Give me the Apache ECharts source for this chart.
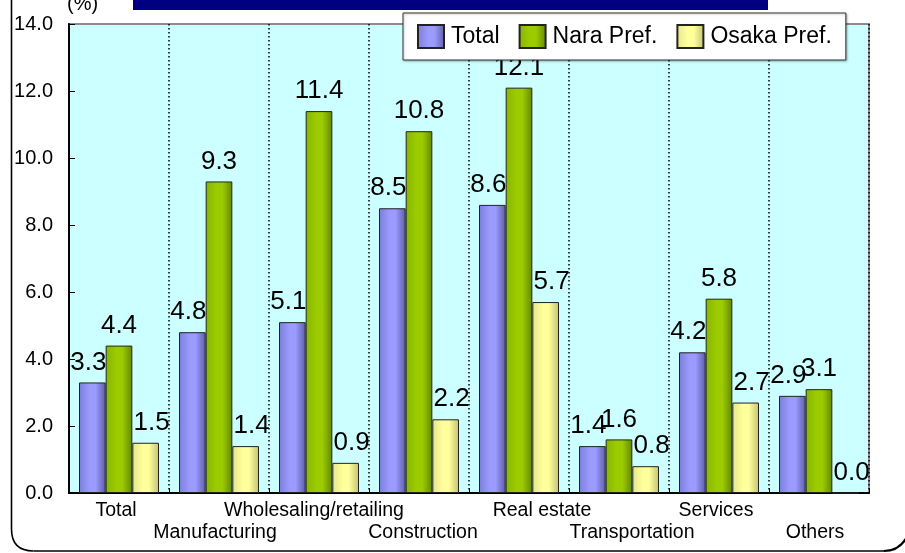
<!DOCTYPE html>
<html>
<head>
<meta charset="utf-8">
<script src="https://cdn.jsdelivr.net/npm/echarts@6/dist/echarts.min.js"></script>
<style>
  html, body { margin: 0; padding: 0; background: #ffffff; overflow: hidden; }
  #chart { width: 905px; height: 553px; }
</style>
</head>
<body>
<div id="chart"></div>
<script>
// Industry categories (x axis)
const categories = ['Total', 'Manufacturing', 'Wholesaling/retailing', 'Construction',
  'Real estate', 'Transportation', 'Services', 'Others'];
// Series names
const seriesNames = ['Total', 'Nara Pref.', 'Osaka Pref.'];
// Percent values per series
const totalValues = [3.3, 4.8, 5.1, 8.5, 8.6, 1.4, 4.2, 2.9];
const naraValues  = [4.4, 9.3, 11.4, 10.8, 12.1, 1.6, 5.8, 3.1];
const osakaValues = [1.5, 1.4, 0.9, 2.2, 5.7, 0.8, 2.7, 0.0];
// Value axis range
const yMin = 0, yMax = 14, yStep = 2;

const SANS = '"Liberation Sans", Arial, sans-serif';

function barGradient(edgeL, mid, edgeR) {
  return new echarts.graphic.LinearGradient(0, 0, 1, 0, [
    { offset: 0, color: edgeL },
    { offset: 0.4, color: mid },
    { offset: 0.62, color: mid },
    { offset: 1, color: edgeR }
  ]);
}

const palette = [
  barGradient('#7c7cd8', '#9b9bff', '#5d5da6'),
  barGradient('#86b400', '#9ccc00', '#638800'),
  barGradient('#e6e68a', '#ffff9c', '#c2c274')
];

function makeSeries(name, values, color, offsetX) {
  return {
    name: name,
    type: 'bar',
    data: values,
    barGap: '0%',
    barCategoryGap: '20%',
    itemStyle: { color: color, borderColor: '#222', borderWidth: 1 },
    label: {
      show: true,
      position: 'top',
      distance: 7,
      offset: [offsetX, 0],
      color: '#000',
      fontFamily: SANS,
      fontSize: 26,
      formatter: p => Number(p.value).toFixed(1)
    }
  };
}

// Category labels alternate between two rows; each gets a small horizontal nudge (px).
const labelNudge = [-3, -4, -5, 4, 23, 13, -3, -4];
const labelRich = {};
labelNudge.forEach((d, i) => {
  labelRich['c' + i] = {
    fontFamily: SANS, fontSize: 19.5, lineHeight: 22, color: '#000',
    padding: d >= 0 ? [0, 0, 0, 2 * d] : [0, -2 * d, 0, 0]
  };
});

const frameStyle = { fill: 'none', stroke: '#000', lineWidth: 1.6 };

const chart = echarts.init(document.getElementById('chart'), null, { renderer: 'canvas' });

chart.setOption({
  animation: false,
  backgroundColor: '#ffffff',
  grid: {
    left: 69, right: 36, top: 24, bottom: 60,
    show: true,
    backgroundColor: '#ccffff',
    borderColor: '#8c8c8c',
    borderWidth: 2
  },
  legend: {
    data: seriesNames,
    left: 403, top: 13,
    orient: 'horizontal',
    icon: 'rect',
    itemWidth: 26, itemHeight: 23, itemGap: 19,
    padding: [11, 14, 11, 14],
    backgroundColor: '#ffffff',
    borderColor: '#333',
    borderWidth: 1,
    shadowColor: 'rgba(0,0,0,0.25)',
    shadowBlur: 2,
    shadowOffsetX: 1,
    shadowOffsetY: 1,
    textStyle: { fontFamily: SANS, fontSize: 23, color: '#000', padding: [0, 0, 0, 2] }
  },
  xAxis: {
    type: 'category',
    data: categories,
    axisLine: { show: true, lineStyle: { color: '#000', width: 2 } },
    axisTick: { show: true, inside: true, length: 5, lineStyle: { color: '#000', width: 1 } },
    splitLine: { show: true, lineStyle: { color: '#000', width: 1.5, type: [1.5, 2.5] } },
    axisLabel: {
      interval: 0,
      margin: 7,
      fontFamily: SANS,
      fontSize: 19.5,
      lineHeight: 22,
      color: '#000',
      rich: labelRich,
      formatter: (v, i) => (i % 2 === 0 ? '' : '\n') + '{c' + i + '|' + v + '}'
    }
  },
  yAxis: {
    type: 'value',
    min: yMin, max: yMax, interval: yStep,
    axisLine: { show: true, lineStyle: { color: '#000', width: 2 } },
    axisTick: { show: true, inside: true, length: 6, lineStyle: { color: '#000', width: 1 } },
    splitLine: { show: false },
    axisLabel: {
      margin: 16,
      fontFamily: SANS,
      fontSize: 20,
      color: '#000',
      formatter: v => v.toFixed(1)
    }
  },
  series: [
    makeSeries(seriesNames[0], totalValues, palette[0], -4),
    makeSeries(seriesNames[1], naraValues, palette[1], 0),
    makeSeries(seriesNames[2], osakaValues, palette[2], 6)
  ],
  graphic: [
    // rounded outer frame: left side, bottom edge and the two lower corners
    { type: 'line', silent: true, shape: { x1: 11.5, y1: -5, x2: 11.5, y2: 529 }, style: frameStyle },
    { type: 'bezierCurve', silent: true,
      shape: { x1: 11.5, y1: 529, cpx1: 11.5, cpy1: 551, x2: 33.5, y2: 551 }, style: frameStyle },
    { type: 'line', silent: true, shape: { x1: 33.5, y1: 551, x2: 884, y2: 551 }, style: frameStyle },
    { type: 'bezierCurve', silent: true,
      shape: { x1: 884, y1: 551, cpx1: 906, cpy1: 551, x2: 912, y2: 522 },
      style: { fill: 'none', stroke: '#000', lineWidth: 2.2 } },
    {
      type: 'rect',
      silent: true,
      shape: { x: 133, y: 0, width: 635, height: 10 },
      style: { fill: '#000080' }
    },
    {
      type: 'text',
      silent: true,
      x: 67, y: -6,
      style: { text: '(%)', fill: '#000', font: '20px ' + SANS, verticalAlign: 'top' }
    }
  ]
});
</script>
</body>
</html>
